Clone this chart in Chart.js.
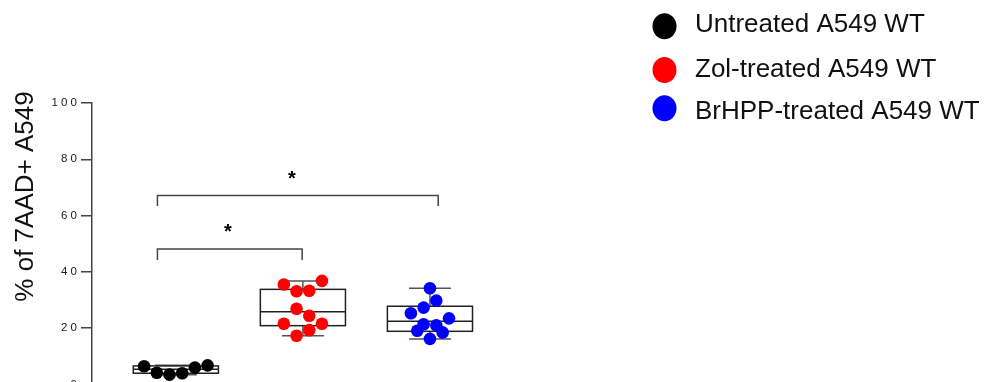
<!DOCTYPE html>
<html>
<head>
<meta charset="utf-8">
<title>% of 7AAD+ A549</title>
<script src="https://cdn.jsdelivr.net/npm/chart.js@4.4.0/dist/chart.umd.min.js"></script>
<style>
  html, body { margin: 0; padding: 0; background: #fff; overflow: hidden; }
  #wrap { width: 990px; height: 400px; }
</style>
</head>
<body>
<div id="wrap"><canvas id="chart"></canvas></div>
<script>
// Groups
const categories = ['Untreated A549 WT', 'Zol-treated A549 WT', 'BrHPP-treated A549 WT'];
const colors = ['#000000', '#ff0000', '#0000ff'];

// Individual values (% 7AAD+) and their horizontal jitter within the group
const untreated = [6.5, 4.2, 3.5, 4.0, 6.0, 6.8];
const untreatedJitter = [-0.25, -0.15, -0.05, 0.05, 0.15, 0.25];
const zolTreated = [35.5, 33.1, 33.3, 36.8, 26.9, 24.4, 21.6, 19.3, 17.3, 21.6];
const zolJitter = [-0.15, -0.05, 0.05, 0.15, -0.05, 0.05, -0.15, 0.05, -0.05, 0.15];
const brhppTreated = [34.2, 29.8, 27.3, 25.3, 23.5, 21.4, 21.0, 19.1, 18.5, 16.2];
const brhppJitter = [0, 0.05, -0.05, -0.15, 0.15, -0.05, 0.05, -0.1, 0.1, 0];

// Box plot stats: min, q1, median, q3, max
const untreatedBox = [3.5, 4.0, 5.4, 6.6, 6.8];
const zolBox = [17.3, 20.9, 25.8, 33.8, 36.8];
const brhppBox = [16.2, 18.9, 22.5, 27.8, 34.2];

// Y axis ticks
const yTicks = [0, 20, 40, 60, 80, 100];

// Significance brackets: from group, to group, height, drop, star x, star y
const bracketFrom = [0.855, 0.855];
const bracketTo = [1.994, 3.065];
const bracketY = [48.1, 67.1];
const bracketDrop = [3.9, 3.7];
const starX = [1.41, 1.913];
const starY = [51.9, 70.7];

const FONT = "'Liberation Sans', Arial, Helvetica, sans-serif";
const boxHalf = 0.335;
const capHalf = 0.165;

const groups = [untreated, zolTreated, brhppTreated];
const jitters = [untreatedJitter, zolJitter, brhppJitter];
const boxes = [untreatedBox, zolBox, brhppBox];

const datasets = groups.map((vals, i) => ({
    label: categories[i],
    data: vals.map((v, j) => ({ x: i + 1 + jitters[i][j], y: v })),
    backgroundColor: colors[i],
    borderWidth: 0,
    pointRadius: 6.3,
    pointHoverRadius: 6.3
}));

// box plots, drawn under the dots
const boxPlugin = {
    id: 'boxes',
    beforeDatasetsDraw(chart) {
        const { ctx, scales: { x, y } } = chart;
        ctx.save();
        ctx.lineWidth = 1.5;
        boxes.forEach((s, i) => {
            const c = i + 1;
            const [mn, q1, med, q3, mx] = s;
            const xc = x.getPixelForValue(c);
            const l = x.getPixelForValue(c - boxHalf);
            const r = x.getPixelForValue(c + boxHalf);
            const cl = x.getPixelForValue(c - capHalf);
            const cr = x.getPixelForValue(c + capHalf);
            // whiskers
            ctx.strokeStyle = '#555';
            ctx.beginPath();
            ctx.moveTo(xc, y.getPixelForValue(q3));
            ctx.lineTo(xc, y.getPixelForValue(mx));
            ctx.moveTo(cl, y.getPixelForValue(mx));
            ctx.lineTo(cr, y.getPixelForValue(mx));
            ctx.moveTo(xc, y.getPixelForValue(q1));
            ctx.lineTo(xc, y.getPixelForValue(mn));
            ctx.moveTo(cl, y.getPixelForValue(mn));
            ctx.lineTo(cr, y.getPixelForValue(mn));
            ctx.stroke();
            // box + median
            ctx.strokeStyle = '#222';
            const top = y.getPixelForValue(q3);
            const bot = y.getPixelForValue(q1);
            ctx.strokeRect(l, top, r - l, bot - top);
            ctx.beginPath();
            ctx.moveTo(l, y.getPixelForValue(med));
            ctx.lineTo(r, y.getPixelForValue(med));
            ctx.stroke();
        });
        ctx.restore();
    }
};

// brackets, stars, axis title and legend
const annotPlugin = {
    id: 'annot',
    afterDraw(chart) {
        const { ctx, scales: { x, y } } = chart;
        ctx.save();
        ctx.strokeStyle = '#444';
        ctx.lineWidth = 1.5;
        bracketY.forEach((h, i) => {
            const x1 = x.getPixelForValue(bracketFrom[i]);
            const x2 = x.getPixelForValue(bracketTo[i]);
            const yt = y.getPixelForValue(h);
            const yb = y.getPixelForValue(h - bracketDrop[i]);
            ctx.beginPath();
            ctx.moveTo(x1, yb);
            ctx.lineTo(x1, yt);
            ctx.lineTo(x2, yt);
            ctx.lineTo(x2, yb);
            ctx.stroke();
            ctx.fillStyle = '#000';
            ctx.font = 'bold 20px ' + FONT;
            ctx.textAlign = 'center';
            ctx.textBaseline = 'alphabetic';
            ctx.fillText('*', x.getPixelForValue(starX[i]), y.getPixelForValue(starY[i]));
        });

        // y axis title
        ctx.save();
        ctx.translate(33, 196.5);
        ctx.rotate(-Math.PI / 2);
        ctx.font = '26px ' + FONT;
        ctx.fillStyle = '#111';
        ctx.textAlign = 'center';
        ctx.textBaseline = 'alphabetic';
        ctx.fillText('% of 7AAD+ A549', 0, 0);
        ctx.restore();

        // legend
        const markerY = [26.2, 70, 108.3];
        const textY = [31.7, 76.7, 119.3];
        chart.data.datasets.forEach((ds, i) => {
            ctx.fillStyle = ds.backgroundColor;
            ctx.beginPath();
            ctx.ellipse(664.5, markerY[i], 12, 13, 0, 0, Math.PI * 2);
            ctx.fill();
            ctx.fillStyle = '#111';
            ctx.font = '26px ' + FONT;
            ctx.textAlign = 'left';
            ctx.textBaseline = 'alphabetic';
            ctx.fillText(ds.label, 695, textY[i]);
        });
        ctx.restore();
    }
};

new Chart(document.getElementById('chart'), {
    type: 'scatter',
    data: { datasets: datasets },
    options: {
        responsive: true,
        maintainAspectRatio: false,
        animation: false,
        layout: { padding: { top: 103, bottom: 15.5, left: 0, right: 433 } },
        plugins: {
            legend: { display: false },
            tooltip: { enabled: false }
        },
        scales: {
            x: {
                type: 'linear',
                display: false,
                min: 0.34,
                max: 4
            },
            y: {
                min: 0,
                max: 100,
                afterFit(scale) { scale.width = 92; },
                afterBuildTicks(scale) { scale.ticks = yTicks.map(v => ({ value: v })); },
                ticks: {
                    padding: 4,
                    color: '#222',
                    font: { family: FONT, size: 11.5 },
                    callback: v => String(v).split('').join(' ')
                },
                grid: {
                    display: true,
                    drawOnChartArea: false,
                    drawTicks: true,
                    tickLength: 11,
                    color: '#444',
                    lineWidth: 1.5
                },
                border: { display: true, color: '#444', width: 1.5 }
            }
        }
    },
    plugins: [boxPlugin, annotPlugin]
});
</script>
</body>
</html>
